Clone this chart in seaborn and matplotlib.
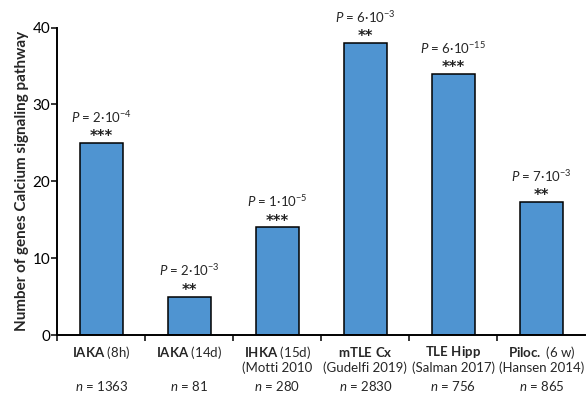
import pandas as pd
import matplotlib
matplotlib.use('Agg')
import matplotlib.pyplot as plt
import seaborn as sns

# data
groups = ['IAKA (8h)', 'IAKA (14d)', 'IHKA (15d)', 'mTLE Cx', 'TLE Hipp', 'Piloc. (6 w)']
n_genes = [25, 5, 14, 38, 34, 17.3]
p_labels = [r'$\mathit{P}$ = 2·10$^{-4}$', r'$\mathit{P}$ = 2·10$^{-3}$', r'$\mathit{P}$ = 1·10$^{-5}$',
            r'$\mathit{P}$ = 6·10$^{-3}$', r'$\mathit{P}$ = 6·10$^{-15}$', r'$\mathit{P}$ = 7·10$^{-3}$']
stars = ['***', '**', '***', '**', '***', '**']
line1 = [r'$\mathbf{IAKA}$ (8h)', r'$\mathbf{IAKA}$ (14d)', r'$\mathbf{IHKA}$ (15d)',
         r'$\mathbf{mTLE\ Cx}$', r'$\mathbf{TLE\ Hipp}$', r'$\mathbf{Piloc.}$ (6 w)']
line2 = ['', '', '(Motti 2010', '(Gudelfi 2019)', '(Salman 2017)', '(Hansen 2014)']
n_sizes = ['1363', '81', '280', '2830', '756', '865']

df = pd.DataFrame({'group': groups, 'n_genes': n_genes})

sns.set_style('ticks')
plt.rcParams['font.family'] = ['Lato', 'DejaVu Sans']
plt.rcParams['mathtext.fontset'] = 'custom'
plt.rcParams['mathtext.rm'] = 'Lato'
plt.rcParams['mathtext.it'] = 'Lato:italic'
plt.rcParams['mathtext.bf'] = 'Lato:bold'

fig = plt.figure(figsize=(5.86, 3.96), dpi=100)
ax = fig.add_axes([0.098, 0.154, 0.901, 0.7765])

sns.barplot(data=df, x='group', y='n_genes', order=groups, color='#4f94d1',
            saturation=1, width=0.49, edgecolor='black', linewidth=1.1, ax=ax)

ax.set_xlim(-0.5, 5.5)
ax.set_ylim(0, 40)
ax.set_yticks([0, 10, 20, 30, 40])
ax.set_xticks([i - 0.5 for i in range(6)])
ax.set_xticklabels([])
ax.set_xlabel('')
ax.set_ylabel('Number of genes Calcium signaling pathway', fontsize=11,
              fontweight='bold', labelpad=3)
ax.tick_params(axis='both', direction='out', length=4, width=1.1, colors='black',
               labelsize=11, pad=1)
for s in ['top', 'right']:
    ax.spines[s].set_visible(False)
for s in ['left', 'bottom']:
    ax.spines[s].set_linewidth(1.4)
    ax.spines[s].set_color('black')

for i, v in enumerate(n_genes):
    ax.annotate(stars[i], xy=(i, v), xytext=(0, -1), textcoords='offset points',
                ha='center', va='bottom', fontsize=10.5, fontweight='bold',
                family='DejaVu Sans', color='#222222')
    ax.annotate(p_labels[i], xy=(i, v), xytext=(0, 14.5), textcoords='offset points',
                ha='center', va='baseline', fontsize=9.5)
    ax.annotate(line1[i], xy=(i, 0), xycoords=('data', 'axes fraction'),
                xytext=(0, -12.5), textcoords='offset points', ha='center', va='center',
                fontsize=9.5)
    if line2[i]:
        ax.annotate(line2[i], xy=(i, 0), xycoords=('data', 'axes fraction'),
                    xytext=(0, -23.5), textcoords='offset points', ha='center',
                    va='center', fontsize=9.5)
    ax.annotate(r'$\mathit{n}$ = ' + n_sizes[i], xy=(i, 0), xycoords=('data', 'axes fraction'),
                xytext=(0, -37), textcoords='offset points', ha='center', va='center',
                fontsize=9.5)

fig.savefig('out.png', dpi=100)
